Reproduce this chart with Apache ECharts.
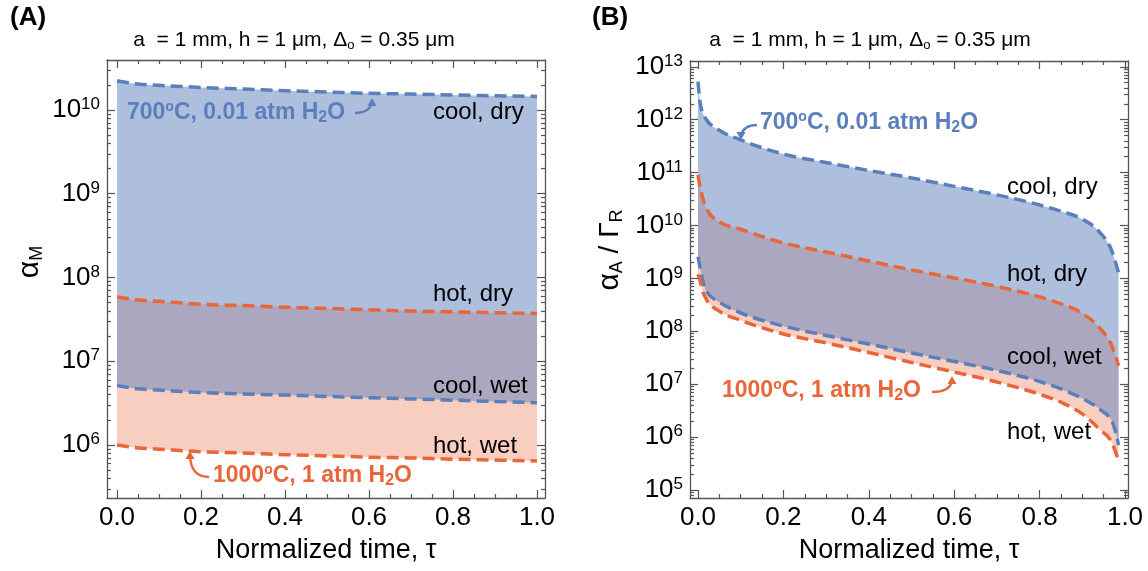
<!DOCTYPE html>
<html><head><meta charset="utf-8">
<script src="https://cdn.jsdelivr.net/npm/echarts@6/dist/echarts.min.js"></script>
<style>html,body{margin:0;padding:0;background:#fff}#c{width:1148px;height:571px}</style>
</head><body><div id="c"></div>
<script>
// ---------------- data ----------------
const tauA = [0, 0.05, 0.1, 0.2, 0.3, 0.4, 0.5, 0.6, 0.7, 0.8, 0.9, 1.0];
const coolDryA = [2.24e10, 2.04e10, 1.97e10, 1.86e10, 1.78e10, 1.70e10, 1.64e10, 1.58e10, 1.55e10, 1.51e10, 1.48e10, 1.45e10];
const hotDryA  = [5.89e7, 5.37e7, 5.19e7, 4.79e7, 4.62e7, 4.42e7, 4.27e7, 4.12e7, 3.98e7, 3.89e7, 3.80e7, 3.72e7];
const coolWetA = [5.13e6, 4.68e6, 4.52e6, 4.22e6, 4.07e6, 3.94e6, 3.80e6, 3.67e6, 3.55e6, 3.43e6, 3.31e6, 3.20e6];
const hotWetA  = [1.00e6, 9.23e5, 8.91e5, 8.32e5, 8.04e5, 7.67e5, 7.41e5, 7.16e5, 7.00e5, 6.76e5, 6.61e5, 6.46e5];

const tauB = [0, 0.005, 0.01, 0.02, 0.05, 0.1, 0.2, 0.3, 0.4, 0.5, 0.6, 0.7, 0.8, 0.85, 0.9, 0.94, 0.97, 0.985];
const coolDryB = [5.25e12, 2.09e12, 1.41e12, 1.0e12, 6.31e11, 4.17e11, 2.24e11, 1.55e11, 1.10e11, 7.94e10, 5.50e10, 3.80e10, 2.45e10, 1.86e10, 1.32e10, 7.59e9, 3.16e9, 1.26e9];
const hotDryB  = [9.12e10, 5.25e10, 3.55e10, 2.09e10, 1.17e10, 8.51e9, 4.68e9, 3.16e9, 2.14e9, 1.45e9, 1.02e9, 7.08e8, 4.47e8, 3.31e8, 2.19e8, 1.17e8, 5.13e7, 2.24e7];
const coolWetB = [2.57e9, 1.58e9, 1.0e9, 5.62e8, 3.55e8, 2.24e8, 1.26e8, 8.32e7, 5.75e7, 3.89e7, 2.69e7, 1.82e7, 1.12e7, 8.13e6, 5.37e6, 3.39e6, 1.95e6, 7.08e5];
const hotWetB  = [1.20e9, 8.91e8, 6.03e8, 3.98e8, 2.40e8, 1.62e8, 8.91e7, 6.03e7, 3.98e7, 2.57e7, 1.70e7, 1.10e7, 6.46e6, 4.57e6, 2.75e6, 1.41e6, 7.59e5, 3.55e5];

const xMajorTicks = [0, 0.2, 0.4, 0.6, 0.8, 1.0];
const xMinorTicks = [0.05, 0.1, 0.15, 0.25, 0.3, 0.35, 0.45, 0.5, 0.55, 0.65, 0.7, 0.75, 0.85, 0.9, 0.95];
const yMajorA = [1e6, 1e7, 1e8, 1e9, 1e10];
const yMajorB = [1e5, 1e6, 1e7, 1e8, 1e9, 1e10, 1e11, 1e12, 1e13];
const minorMult = [2, 3, 4, 5, 6, 7, 8, 9];
const decadesA = [1e5, 1e6, 1e7, 1e8, 1e9, 1e10];
const decadesB = [1e4, 1e5, 1e6, 1e7, 1e8, 1e9, 1e10, 1e11, 1e12, 1e13];

// ---------------- style ----------------
const FONT = "'Liberation Sans', Arial, Helvetica, sans-serif";
const FRAME = '#555555';
const BLUE = '#5b7fbb';
const ORANGE = '#e8663a';

const minorOf = ds => ds.flatMap(d => minorMult.map(m => m * d));
const tickStyle = { color: FRAME, width: 1.2 };
const frameLine = { show: true, onZero: false, lineStyle: { color: FRAME, width: 1.3 } };

function xAxes(grid, min, max) {
  const c = { type: 'value', gridIndex: grid, min, max, splitLine: { show: false } };
  return [
    Object.assign({}, c, { position: 'bottom', axisLine: frameLine,
      axisTick: { show: true, inside: true, length: 8, customValues: xMajorTicks, lineStyle: tickStyle },
      axisLabel: { show: true, customValues: xMajorTicks, formatter: v => v.toFixed(1), fontSize: 26, color: '#000', fontFamily: FONT, margin: 7 },
      name: 'Normalized time, τ', nameLocation: 'middle', nameGap: 39,
      nameTextStyle: { fontSize: 27, color: '#000', fontFamily: FONT } }),
    Object.assign({}, c, { position: 'bottom', axisLine: { show: false, onZero: false },
      axisTick: { show: true, inside: true, length: 4, customValues: xMinorTicks, lineStyle: tickStyle }, axisLabel: { show: false } }),
    Object.assign({}, c, { position: 'top', axisLine: frameLine,
      axisTick: { show: true, inside: true, length: 8, customValues: xMajorTicks, lineStyle: tickStyle }, axisLabel: { show: false } }),
    Object.assign({}, c, { position: 'top', axisLine: { show: false, onZero: false },
      axisTick: { show: true, inside: true, length: 4, customValues: xMinorTicks, lineStyle: tickStyle }, axisLabel: { show: false } })
  ];
}

function yAxes(grid, min, max, major, minor) {
  const c = { type: 'log', logBase: 10, gridIndex: grid, min, max, splitLine: { show: false } };
  return [
    Object.assign({}, c, { position: 'left', axisLine: frameLine,
      axisTick: { show: true, inside: true, length: 8, customValues: major, lineStyle: tickStyle },
      axisLabel: { show: true, customValues: major, margin: 7,
        formatter: v => '{b|10}{s|' + Math.round(Math.log10(v)) + '}',
        rich: { b: { fontSize: 26, color: '#000', fontFamily: FONT, lineHeight: 28 },
                s: { fontSize: 17, color: '#000', fontFamily: FONT, verticalAlign: 'top', lineHeight: 17 } } } }),
    Object.assign({}, c, { position: 'left', axisLine: { show: false, onZero: false },
      axisTick: { show: true, inside: true, length: 4, customValues: minor, lineStyle: tickStyle }, axisLabel: { show: false } }),
    Object.assign({}, c, { position: 'right', axisLine: frameLine,
      axisTick: { show: true, inside: true, length: 8, customValues: major, lineStyle: tickStyle }, axisLabel: { show: false } }),
    Object.assign({}, c, { position: 'right', axisLine: { show: false, onZero: false },
      axisTick: { show: true, inside: true, length: 4, customValues: minor, lineStyle: tickStyle }, axisLabel: { show: false } })
  ];
}

// monotone cubic (in x) bezier segments through pixel points
function monoSegs(p) {
  const n = p.length, t = new Array(n).fill(0);
  const sgn = v => (v < 0 ? -1 : v > 0 ? 1 : 0);
  for (let i = 1; i < n - 1; i++) {
    const h0 = p[i][0] - p[i - 1][0], h1 = p[i + 1][0] - p[i][0];
    const s0 = (p[i][1] - p[i - 1][1]) / h0, s1 = (p[i + 1][1] - p[i][1]) / h1;
    const q = (s0 * h1 + s1 * h0) / (h0 + h1);
    t[i] = (sgn(s0) + sgn(s1)) * Math.min(Math.abs(s0), Math.abs(s1), 0.5 * Math.abs(q)) || 0;
  }
  const h = p[1][0] - p[0][0];
  t[0] = (3 * (p[1][1] - p[0][1]) / h - t[1]) / 2;
  const h2 = p[n - 1][0] - p[n - 2][0];
  t[n - 1] = (3 * (p[n - 1][1] - p[n - 2][1]) / h2 - t[n - 2]) / 2;
  const segs = [];
  for (let i = 0; i < n - 1; i++) {
    const dx = (p[i + 1][0] - p[i][0]) / 3;
    segs.push([[p[i][0] + dx, p[i][1] + dx * t[i]], [p[i + 1][0] - dx, p[i + 1][1] - dx * t[i + 1]], p[i + 1]]);
  }
  return segs;
}
const P = pt => pt[0].toFixed(2) + ' ' + pt[1].toFixed(2);
function curvePath(pts) {
  return 'M ' + P(pts[0]) + monoSegs(pts).map(s => ' C ' + P(s[0]) + ' ' + P(s[1]) + ' ' + P(s[2])).join('');
}
function bandPath(up, dn) {
  const segs = monoSegs(dn);
  let d = curvePath(up) + ' L ' + P(dn[dn.length - 1]);
  for (let i = segs.length - 1; i >= 0; i--) {
    d += ' C ' + P(segs[i][1]) + ' ' + P(segs[i][0]) + ' ' + P(dn[i]);
  }
  return d + ' Z';
}

// one custom series per panel: two translucent bands + four dashed curves
function panelSeries(ai, tau, coolDry, coolWet, hotDry, hotWet) {
  return {
    type: 'custom', coordinateSystem: 'cartesian2d', xAxisIndex: ai, yAxisIndex: ai,
    silent: true, clip: true, z: 2,
    data: [[tau[0], coolDry[0]]],
    renderItem: (params, api) => {
      const pts = arr => tau.map((t, i) => api.coord([t, arr[i]]));
      const cd = pts(coolDry), cw = pts(coolWet), hd = pts(hotDry), hw = pts(hotWet);
      const line = (p, color) => ({ type: 'path', shape: { pathData: curvePath(p) },
        style: { fill: 'none', stroke: color, lineWidth: 3.5, lineDash: [12, 6], lineCap: 'butt' } });
      return { type: 'group', children: [
        { type: 'path', shape: { pathData: bandPath(hd, hw) }, style: { fill: ORANGE, opacity: 0.32 } },
        { type: 'path', shape: { pathData: bandPath(cd, cw) }, style: { fill: BLUE, opacity: 0.5 } },
        line(cd, BLUE), line(cw, BLUE), line(hd, ORANGE), line(hw, ORANGE)
      ] };
    }
  };
}

// ---------------- text helpers ----------------
function tok(size, weight, extra) {
  return Object.assign({ fontSize: size, fontFamily: FONT, fontWeight: weight || 'normal' }, extra || {});
}
function txt(x, y, text, size, weight, fill, rich, extra) {
  return Object.assign({ type: 'text', x, y, silent: true, z: 10,
    style: { text, fontSize: size, fontFamily: FONT, fontWeight: weight, fill, verticalAlign: 'middle', align: 'left', rich } }, extra || {});
}
const annRich = {
  n: tok(23, 'bold', { lineHeight: 26 }),
  sup: tok(14, 'bold', { verticalAlign: 'top', lineHeight: 14 }),
  sub: tok(16, 'bold', { verticalAlign: 'bottom', lineHeight: 16, padding: [16, 0, 0, 0] })
};
const titleRich = {
  n: tok(21, 'normal', { lineHeight: 24 }),
  s: tok(13, 'normal', { verticalAlign: 'bottom', lineHeight: 13, padding: [14, 0, 0, 0] })
};
const yNameRich = {
  a: tok(30, 'normal', { lineHeight: 32 }),
  n: tok(28, 'normal', { lineHeight: 32 }),
  s: tok(18, 'normal', { verticalAlign: 'bottom', lineHeight: 18, padding: [16, 0, 0, 0] })
};
const T_700 = '{n|700}{sup|o}{n|C, 0.01 atm H}{sub|2}{n|O}';
const T_1000 = '{n|1000}{sup|o}{n|C, 1 atm H}{sub|2}{n|O}';
const T_TITLE = '{n|a  = 1 mm, h = 1 μm, Δ}{s|o}{n| = 0.35 μm}';

function arrow(x1, y1, cx, cy, x2, y2, color, dir) {
  const tip = dir === 'up' ? [[x2 - 4.5, y2 + 3], [x2 + 4.5, y2 + 3], [x2, y2 - 5]]
                           : [[x2 - 4.5, y2 - 3], [x2 + 4.5, y2 - 3], [x2, y2 + 5]];
  return [
    { type: 'bezierCurve', silent: true, z: 10, shape: { x1, y1, x2, y2, cpx1: cx, cpy1: cy },
      style: { stroke: color, lineWidth: 2.4, fill: null } },
    { type: 'polygon', silent: true, z: 10, shape: { points: tip }, style: { fill: color } }
  ];
}

const graphics = [
  txt(10, 18, '(A)', 26, 'bold', '#000'),
  txt(592, 18, '(B)', 26, 'bold', '#000'),
  txt(294, 40, T_TITLE, 21, 'normal', '#000', titleRich),
  txt(870, 40, T_TITLE, 21, 'normal', '#000', titleRich),
  txt(30, 262, '{a|α}{s|M}', 30, 'normal', '#000', yNameRich, { rotation: Math.PI / 2 }),
  txt(610, 250, '{a|α}{s|A}{n| / Γ}{s|R}', 30, 'normal', '#000', yNameRich, { rotation: Math.PI / 2 }),
  // panel A annotations
  txt(127, 113, T_700, 23, 'bold', BLUE, annRich),
  txt(433, 112, 'cool, dry', 24, 'normal', '#000'),
  txt(433, 294, 'hot, dry', 24, 'normal', '#000'),
  txt(433, 386, 'cool, wet', 24, 'normal', '#000'),
  txt(433, 446, 'hot, wet', 24, 'normal', '#000'),
  txt(213, 476, T_1000, 23, 'bold', ORANGE, annRich),
  // panel B annotations
  txt(760, 123, T_700, 23, 'bold', BLUE, annRich),
  txt(1007, 187, 'cool, dry', 24, 'normal', '#000'),
  txt(1007, 274, 'hot, dry', 24, 'normal', '#000'),
  txt(1007, 357, 'cool, wet', 24, 'normal', '#000'),
  txt(1007, 432, 'hot, wet', 24, 'normal', '#000'),
  txt(722, 391, T_1000, 23, 'bold', ORANGE, annRich)
].concat(
  arrow(355, 113, 369, 113, 372, 103, BLUE, 'up'),
  arrow(209, 477, 191, 477, 190, 456, ORANGE, 'up'),
  arrow(757, 125, 744, 125, 741, 135, BLUE, 'down'),
  arrow(932, 392, 950, 392, 952, 381, ORANGE, 'up')
);
[2, 3, 4, 5].forEach(i => { graphics[i].style.align = 'center'; });

const option = {
  animation: false,
  backgroundColor: '#ffffff',
  textStyle: { fontFamily: FONT },
  grid: [
    { left: 107, top: 60, width: 438, height: 438, containLabel: false },
    { left: 690, top: 61, width: 438, height: 437, containLabel: false }
  ],
  xAxis: [].concat(
    xAxes(0, -10 / 420, 1 + 8 / 420),
    xAxes(1, -8 / 427, 1 + 3 / 427)
  ),
  yAxis: [].concat(
    yAxes(0, Math.pow(10, 5.367), Math.pow(10, 10.597), yMajorA, minorOf(decadesA)),
    yAxes(1, Math.pow(10, 4.849), Math.pow(10, 13.11), yMajorB, minorOf(decadesB))
  ),
  series: [
    panelSeries(0, tauA, coolDryA, coolWetA, hotDryA, hotWetA),
    panelSeries(4, tauB, coolDryB, coolWetB, hotDryB, hotWetB)
  ],
  graphic: graphics
};

const chart = echarts.init(document.getElementById('c'), null, { renderer: 'canvas' });
chart.setOption(option);
</script>
</body></html>
